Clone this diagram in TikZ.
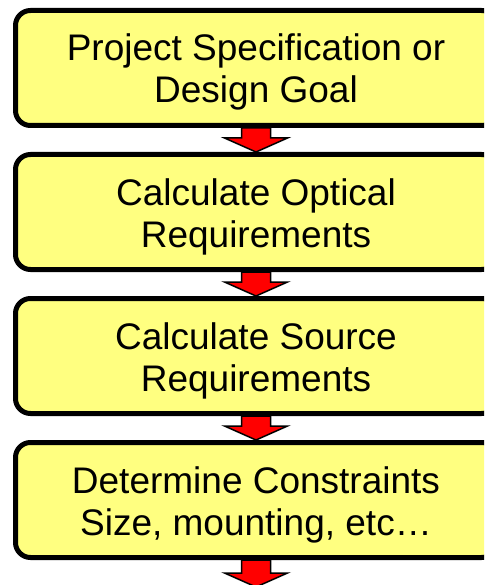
\documentclass[tikz,border=0pt]{standalone}
\usepackage{fontspec}
\setmainfont{Liberation Sans}
\usetikzlibrary{calc,backgrounds}

\definecolor{boxfill}{RGB}{255,255,128}
\definecolor{flowred}{RGB}{255,0,0}

% two centred lines, first baseline 7pt above the box centre
\newcommand\twolines[2]{\parbox{470pt}{\centering\rule{0pt}{38pt}#1\\#2\rule[-10pt]{0pt}{10pt}}}

\tikzset{
  stepbox/.style={draw=black, line width=5pt, fill=boxfill, rounded corners=15pt,
    minimum width=481pt, minimum height=115pt, inner sep=0pt,
    font=\fontsize{37}{42}\selectfont},
  flowarrow/.style={draw=black, line width=1.5pt, fill=flowred, line join=miter},
}

% block arrow from the bottom of #1 down to #2
\newcommand\blockarrow[2]{%
  \fill[flowarrow]
    ($(#1.south)+(-14.5,0)$) -- ($(#2)+(-14.5,14)$) -- ($(#2)+(-31.5,14)$) --
    (#2) --
    ($(#2)+(31.5,14)$) -- ($(#2)+(14.5,14)$) -- ($(#1.south)+(14.5,0)$) -- cycle;}

\begin{document}
\begin{tikzpicture}[x=1pt,y=1pt]
  \useasboundingbox (0,0) rectangle (484,-585);
  \clip (0,0) rectangle (484,-585);

  \node[stepbox] (spec)  at (256,-68)  {\twolines{Project Specification or}{Design Goal}};
  \node[stepbox] (optic) at (256,-212) {\twolines{Calculate Optical}{Requirements}};
  \node[stepbox] (src)   at (256,-356) {\twolines{Calculate Source}{Requirements}};
  \node[stepbox] (cons)  at (256,-500) {\twolines{Determine Constraints}{Size, mounting, etc\ldots}};
  \coordinate (out) at (256,-587);

  \begin{scope}[on background layer]
    \blockarrow{spec}{optic.north}
    \blockarrow{optic}{src.north}
    \blockarrow{src}{cons.north}
    \blockarrow{cons}{out}
  \end{scope}
\end{tikzpicture}
\end{document}
